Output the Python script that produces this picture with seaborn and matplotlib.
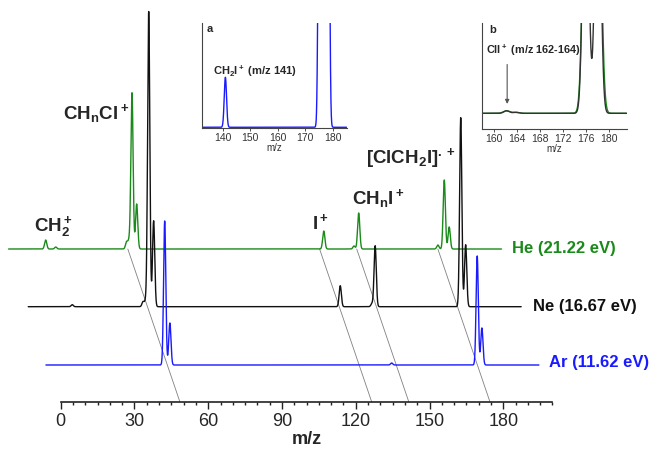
import numpy as np
import pandas as pd
import matplotlib
matplotlib.use("Agg")
import matplotlib.pyplot as plt
from matplotlib.ticker import FixedLocator
import seaborn as sns

# Style
sns.set_style("white")
plt.rcParams['font.family'] = ['Liberation Sans', 'DejaVu Sans']
plt.rcParams['mathtext.fontset'] = 'custom'
plt.rcParams['mathtext.rm'] = 'Liberation Sans'
plt.rcParams['mathtext.bf'] = 'Liberation Sans:bold'
plt.rcParams['mathtext.default'] = 'bf'

# Peak lists (m/z, height in arb. units)
he_mz = [15.1, 19.2, 48.0, 49.0, 50.2, 52.1, 128.2, 140.5, 142.4, 174.6, 177.2, 179.2]
he_int = [9, 2, 7, 8, 156, 45, 18, 3, 36, 4, 69, 22]
ne_mz = [17.9, 46.7, 47.8, 49.0, 51.0, 126.9, 139.8, 141.1, 175.9, 177.9]
ne_int = [2, 5, 6, 295, 86, 21, 3, 61, 189, 62]
ar_mz = [48.3, 50.4, 140.6, 175.4, 177.3]
ar_int = [144, 42, 2, 109, 37]

gases = ['He (21.22 eV)', 'Ne (16.67 eV)', 'Ar (11.62 eV)']
guide_mz = [48.5, 126.5, 141.6, 174.6]

# inset a (Ar, zoom around CH2I+)
inset_a_mz = [141.0, 175.2, 176.8, 178.4]
inset_a_int = [50, 400, 400, 400]
# inset b (He / Ne, zoom around ClI+)
inset_b_he_mz = [162.2, 163.8, 176.0, 177.0, 178.0]
inset_b_he_int = [2.5, 1, 300, 300, 300]
inset_b_ne_mz = [162.2, 163.8, 175.9, 178.0]
inset_b_ne_int = [2.5, 1, 300, 300]

colors = ['#1a8a1a', '#111111', '#1a1aff']
offsets = [153, 95.3, 37]      # vertical stacking
shifts = [21.2, 13.2, 6.0]     # horizontal skew of each trace


def spectrum(grid, mz, inten, width):
    y = np.zeros_like(grid)
    for m, h in zip(mz, inten):
        y += h * np.exp(-0.5 * ((grid - m) / width) ** 2)
    return y


grid = np.arange(0, 200.5, 0.02)
frames = []
for gas, mz, inten, off, sh in zip(gases, [he_mz, ne_mz, ar_mz],
                                   [he_int, ne_int, ar_int], offsets, shifts):
    frames.append(pd.DataFrame({'x': grid - sh,
                                'y': spectrum(grid, mz, inten, 0.45) + off,
                                'gas': gas}))
df = pd.concat(frames, ignore_index=True)

fig = plt.figure(figsize=(6.54, 4.49), dpi=100)
ax = fig.add_axes([0, 0, 1, 1])
ax.set_xlim(-24.68, 241.3)
ax.set_ylim(-47, 402)

# guide lines
for m in guide_mz:
    ax.plot([m, m - shifts[0]], [0, offsets[0]], color='#808080', lw=0.6, zorder=1)

sns.lineplot(data=df, x='x', y='y', hue='gas', palette=dict(zip(gases, colors)),
             estimator=None, sort=False, lw=1.0, legend=False, ax=ax, zorder=2)

for gas, c, off, xpos in zip(gases, colors, offsets, [183.4, 191.9, 198.7]):
    ax.text(xpos, off + (3 if gas.startswith('Ar') else 0), gas, color=c,
            fontsize=12, fontweight='bold', va='center', ha='left')

# peak labels
ax.text(-10.8, 171, r'$CH_2^+$', fontsize=13.5)
ax.text(1.1, 282.7, r'$CH_nCl^+$', fontsize=13.5)
ax.text(102.3, 173, r'$I^+$', fontsize=13.5)
ax.text(118.3, 197.7, r'$CH_nI^+$', fontsize=13.5)
ax.text(124.2, 238.7, r'$[ClCH_2I]^{.+}$', fontsize=13.5)

# bottom axis
for s in ['top', 'right', 'left']:
    ax.spines[s].set_visible(False)
ax.spines['bottom'].set_position(('data', 0))
ax.spines['bottom'].set_bounds(0, 200)
ax.spines['bottom'].set_color('#222222')
ax.spines['bottom'].set_linewidth(1.2)
ax.set_yticks([])
ax.xaxis.set_major_locator(FixedLocator(np.arange(0, 181, 30)))
ax.xaxis.set_minor_locator(FixedLocator(np.arange(0, 201, 5)))
ax.tick_params(axis='x', which='major', bottom=True, direction='out', length=5, width=1,
               color='#222222', labelsize=13, pad=3)
ax.tick_params(axis='x', which='minor', bottom=True, direction='out', length=2.5, width=1,
               color='#222222')
ax.set_xlabel('')
ax.set_ylabel('')
ax.text(100, -38, 'm/z', fontsize=13, fontweight='bold', ha='center', va='center')


def style_inset(a, ticks):
    for s in ['top', 'right']:
        a.spines[s].set_visible(False)
    for s in ['left', 'bottom']:
        a.spines[s].set_color('#444444')
        a.spines[s].set_linewidth(0.8)
    a.set_yticks([])
    a.set_xticks(ticks)
    a.tick_params(axis='x', bottom=True, direction='out', length=2, width=0.6, pad=1.5,
                  labelsize=7.5, colors='#333333')
    a.set_xlabel('m/z', fontsize=7, labelpad=0, color='#333333')
    a.set_ylabel('')
    a.patch.set_alpha(0)


# inset a
axa = fig.add_axes([0.3093, 0.7143, 0.2208, 0.2345])
ga = np.arange(132.6, 185.1, 0.02)
sns.lineplot(x=ga, y=spectrum(ga, inset_a_mz, inset_a_int, 0.42), color=colors[2],
             lw=1.0, estimator=None, sort=False, ax=axa)
axa.set_xlim(132.6, 185.1)
axa.set_ylim(-1, 104.3)
style_inset(axa, [140, 150, 160, 170, 180])
axa.text(0.03, 0.94, 'a', transform=axa.transAxes, fontsize=8, fontweight='bold',
         va='center')
axa.text(0.072, 0.537, r'$CH_2I^+$ (m/z 141)', transform=axa.transAxes,
         fontsize=8, fontweight='bold', va='center')

# inset b
axb = fig.add_axes([0.7375, 0.7120, 0.2208, 0.2367])
gb = np.arange(158.0, 183.0, 0.02)
sns.lineplot(x=gb, y=spectrum(gb, inset_b_he_mz, inset_b_he_int, 0.55), color=colors[0],
             lw=1.0, estimator=None, sort=False, ax=axb)
sns.lineplot(x=gb, y=spectrum(gb, inset_b_ne_mz, inset_b_ne_int, 0.48), color='#333333',
             lw=1.0, estimator=None, sort=False, ax=axb)
axb.set_xlim(158.0, 183.0)
axb.set_ylim(-16, 90.3)
style_inset(axb, [160, 164, 168, 172, 176, 180])
axb.text(0.048, 0.934, 'b', transform=axb.transAxes, fontsize=8, fontweight='bold',
         va='center')
axb.text(0.026, 0.746, r'$ClI^+$ (m/z 162-164)', transform=axb.transAxes,
         fontsize=7.8, fontweight='bold', va='center')
axb.annotate('', xy=(162.3, 6.6), xytext=(162.3, 51.6),
             arrowprops=dict(arrowstyle='-|>', color='#555555', lw=0.8,
                             mutation_scale=6))

fig.savefig('out.png', dpi=100)
